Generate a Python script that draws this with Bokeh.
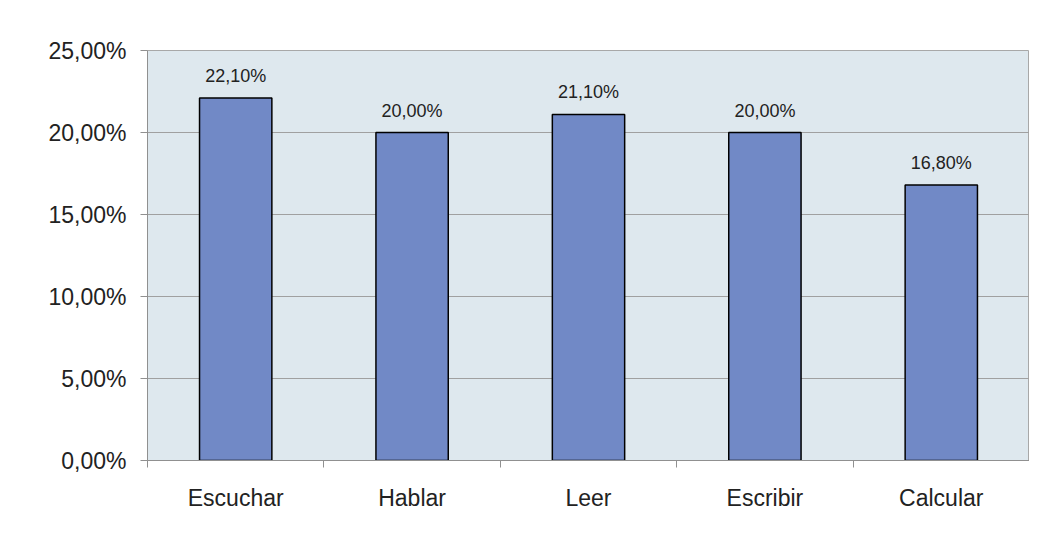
from bokeh.plotting import figure
from bokeh.models import ColumnDataSource, FixedTicker, Range1d
from bokeh.core.properties import value
from bokeh.embed import file_html
from bokeh.resources import INLINE

categories = ["Escuchar", "Hablar", "Leer", "Escribir", "Calcular"]
values = [22.1, 20.0, 21.1, 20.0, 16.8]
y_ticks = [0, 5, 10, 15, 20, 25]
y_tick_labels = ["0,00%", "5,00%", "10,00%", "15,00%", "20,00%", "25,00%"]

xs = [i + 0.5 for i in range(len(categories))]
labels = [f"{v:.2f}".replace(".", ",") + "%" for v in values]
src = ColumnDataSource(dict(x=xs, top=values, label=labels))

FONT = "Liberation Sans"

p = figure(width=1029, height=521, output_backend="svg", toolbar_location=None,
           x_range=Range1d(0, len(categories)), y_range=Range1d(0, 25),
           min_border_left=147, min_border_right=0, min_border_top=50, min_border_bottom=61)
p.background_fill_color = "#dee8ee"
p.border_fill_color = "white"
p.outline_line_color = "#a8a8a8"

p.vbar(x="x", top="top", width=0.41, bottom=0, source=src,
       fill_color="#7189c6", line_color="black", line_width=1.5)
p.text(x="x", y="top", text="label", source=src, text_align="center",
       text_baseline="bottom", y_offset=-12, text_font=value(FONT),
       text_font_size="18px", text_color="#222222")

# y axis
p.yaxis.ticker = FixedTicker(ticks=y_ticks)
p.yaxis.major_label_overrides = {t: l for t, l in zip(y_ticks, y_tick_labels)}
p.yaxis.major_label_text_font = FONT
p.yaxis.major_label_text_font_size = "23px"
p.yaxis.major_label_text_color = "#222222"
p.yaxis.axis_line_color = "#909090"
p.yaxis.major_tick_line_color = "#909090"
p.yaxis.major_tick_out = 7
p.yaxis.major_tick_in = 0
p.yaxis.minor_tick_line_color = None
p.yaxis.major_label_standoff = 14

# x axis
p.xaxis.ticker = FixedTicker(ticks=xs, minor_ticks=list(range(len(categories) + 1)))
p.xaxis.major_label_overrides = {x: c for x, c in zip(xs, categories)}
p.xaxis.major_label_text_font = FONT
p.xaxis.major_label_text_font_size = "23px"
p.xaxis.major_label_text_color = "#222222"
p.xaxis.axis_line_color = "#909090"
p.xaxis.major_tick_line_color = None
p.xaxis.minor_tick_line_color = "#909090"
p.xaxis.minor_tick_out = 7
p.xaxis.minor_tick_in = 0
p.xaxis.major_label_standoff = 17

p.xgrid.grid_line_color = None
p.ygrid.ticker = FixedTicker(ticks=y_ticks)
p.ygrid.grid_line_color = "#a0a0a0"
p.ygrid.grid_line_width = 1

open("out.html", "w").write(file_html(p, INLINE))
